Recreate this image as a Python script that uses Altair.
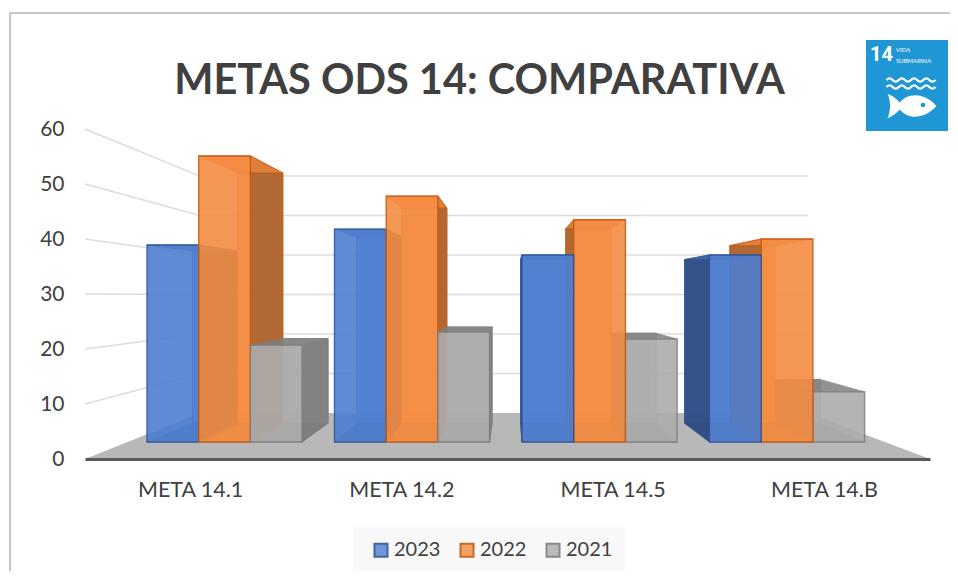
import altair as alt
import pandas as pd

CATEGORIES = ["META 14.1", "META 14.2", "META 14.5", "META 14.B"]
YEARS = ["2023", "2022", "2021"]
V2023 = [38.9, 41.8, 37.1, 37.1]
V2022 = [55.1, 47.8, 43.5, 40.0]
V2021 = [20.7, 23.1, 21.8, 12.2]
TICKS = [0, 10, 20, 30, 40, 50, 60]

FRONT = {"2023": "#4f7fd0", "2022": "#f58c42", "2021": "#acacac"}
BACK = {"2023": "#6e9ae4", "2022": "#f9a05e", "2021": "#bcbcbc"}
EDGE = {"2023": "#2f5597", "2022": "#c55a11", "2021": "#7f7f7f"}
SIDE = {"2023": "#2e4a80", "2022": "#ab622c", "2021": "#7c7c7c"}
TOP = {"2023": "#3f68ad", "2022": "#e8823a", "2021": "#7f7f7f"}
TEXT = "#404040"

# layout constants (page pixels)
L, R, T, B = 85, 930, 129, 459
PX = 5.5                # pixels per unit on the front scale
VX, VY, K = 510, 292, 0.875   # perspective of bar depth
WK, WVY = 0.718, 296    # perspective of the wall
BASE_PX = 442
GROUP0, GROUP_STEP, BAR_W = 147, 187.5, 51.7


def v(py):
    return (B - py) / PX


def py(val):
    return B - PX * val


def bx(x):
    return VX + (x - VX) * K


def by(y):
    return VY + (y - VY) * K


xq = alt.Scale(domain=[L, R], nice=False, zero=False)
yq = alt.Scale(domain=[0, 60], nice=False, zero=False)
X = lambda f="x": alt.X(f + ":Q", scale=xq, axis=None)
Y = lambda f="y": alt.Y(f + ":Q", scale=yq, axis=None)
X2 = lambda f="x2": alt.X2(f)
Y2 = lambda f="y2": alt.Y2(f)


def quad_v(xa, ta, ba, xb, tb, bb, **kw):
    """area with vertical ends: at x=xa spans ta..ba, at x=xb spans tb..bb (page px)"""
    d = pd.DataFrame({"x": [xa, xb], "y": [v(ta), v(tb)], "y2": [v(ba), v(bb)]})
    return alt.Chart(d).mark_area(**kw).encode(x=X(), y=Y(), y2=Y2())


def quad_h(ya, xa0, xa1, yb, xb0, xb1, **kw):
    """area with horizontal ends"""
    d = pd.DataFrame({"y": [v(ya), v(yb)], "x": [xa0, xb0], "x2": [xa1, xb1]})
    return alt.Chart(d).mark_area(orient="horizontal", **kw).encode(x=X(), x2=X2(), y=Y())


def line(xa, ya, xb, yb, color="#dcdcdc", width=1.5):
    d = pd.DataFrame({"x": [xa], "x2": [xb], "y": [v(ya)], "y2": [v(yb)]})
    return alt.Chart(d).mark_rule(color=color, strokeWidth=width).encode(x=X(), x2=X2(), y=Y(), y2=Y2())


def box(x0, x1, y0, y1, color):
    d = pd.DataFrame({"x": [x0], "x2": [x1], "y": [v(y0)], "y2": [v(y1)]})
    return alt.Chart(d).mark_rect(color=color).encode(x=X(), x2=X2(), y=Y(), y2=Y2())


layers = []

# real axes
axis_df = pd.DataFrame({"cat": CATEGORIES, "val": [0, 0, 0, 0]})
layers.append(
    alt.Chart(axis_df).mark_bar(opacity=0).encode(
        x=alt.X("cat:N", sort=CATEGORIES, title=None, scale=alt.Scale(paddingInner=0, paddingOuter=0),
                axis=alt.Axis(labelAngle=0, labelFontSize=21.5, labelColor=TEXT, labelFont="Lato", labelPadding=20,
                              ticks=False, domainColor="#595959", domainWidth=3, grid=False, zindex=1)),
        y=alt.Y("val:Q", title=None, scale=yq,
                axis=alt.Axis(values=TICKS, labelFontSize=21, labelColor=TEXT, labelFont="Lato", labelPadding=21,
                              ticks=False, domain=False, grid=False)),
    )
)

# frame: top and left only
FRAME = "#c8c8c8"
layers += [line(9, 13, 958, 13, FRAME, 2), line(10, 13, 10, 579, FRAME, 2)]

# walls: gridlines on the back wall and side-wall slants
CORNER_L, CORNER_R = 200, 808
for t in TICKS[1:]:
    front_y = py(t)
    back_y = WVY + (front_y - WVY) * WK
    layers.append(line(L, front_y, CORNER_L, back_y))
    layers.append(line(CORNER_L, back_y, CORNER_R, back_y))

# floor
floor_back = WVY + (B - WVY) * WK
layers.append(quad_h(B, L, R, floor_back, CORNER_L, CORNER_R, color="#b8b8b8"))

# legend background
layers.append(box(354, 625, 527, 573, "#f8f8f8"))

# bars: painter order, farthest from the vanishing column first
bars = []
for i, cat in enumerate(CATEGORIES):
    for j, (yr, vals) in enumerate(zip(YEARS, [V2023, V2022, V2021])):
        x0 = GROUP0 + GROUP_STEP * i + BAR_W * j
        bars.append((cat, yr, vals[i], x0, x0 + BAR_W))
bars.sort(key=lambda b: -abs((b[3] + b[4]) / 2 - VX))

year_color = alt.Color("year:N", sort=YEARS, title=None,
                       scale=alt.Scale(domain=YEARS, range=[FRONT[y] for y in YEARS]),
                       legend=alt.Legend(orient="none", legendX=361 - L, legendY=530 - T, direction="horizontal",
                                         columns=3, symbolType="square", symbolSize=170, symbolStrokeWidth=2,
                                         labelFontSize=20, labelFont="Lato", labelColor=TEXT, labelOffset=3,
                                         columnPadding=15, padding=10, symbolOpacity=0.95))
year_stroke = alt.Stroke("year:N", sort=YEARS, title=None,
                         scale=alt.Scale(domain=YEARS, range=[EDGE[y] for y in YEARS]))

for cat, yr, val, x0, x1 in bars:
    top = py(val)
    bb0, bb1 = bx(x0), bx(x1)
    btop, bbase = by(top), by(BASE_PX)
    e = dict(stroke=EDGE[yr], strokeWidth=0.8)
    layers.append(quad_v(bb0, btop, bbase, bb1, btop, bbase, color=BACK[yr], opacity=0.9, **e))
    layers.append(quad_h(BASE_PX, x0, x1, bbase, bb0, bb1, color=SIDE[yr], opacity=0.55, **e))
    if x1 < VX:
        layers.append(quad_v(x1, top, BASE_PX, bb1, btop, bbase, color=SIDE[yr], opacity=0.9, **e))
    elif x0 > VX:
        layers.append(quad_v(bb0, btop, bbase, x0, top, BASE_PX, color=SIDE[yr], opacity=0.9, **e))
    layers.append(quad_h(top, x0, x1, btop, bb0, bb1, color=TOP[yr], opacity=0.85, **e))
    front = pd.DataFrame({"x": [x0, x1], "y": [val, val], "y2": [v(BASE_PX)] * 2, "year": [yr, yr]})
    layers.append(
        alt.Chart(front).mark_area(opacity=0.9, strokeWidth=1.4).encode(
            x=X(), y=Y(), y2=Y2(), color=year_color, stroke=year_stroke
        )
    )

# SDG 14 badge
ICON = "#1f97d4"
layers.append(box(866, 948, 40, 131, ICON))


def label(txt, x, y, size, weight="normal", align="left", font="Lato"):
    d = pd.DataFrame({"x": [x], "y": [v(y)], "t": [txt]})
    return alt.Chart(d).mark_text(font=font, fontSize=size, fontWeight=weight, color="white", align=align,
                                  baseline="middle").encode(x=X(), y=Y(), text="t:N")


def glyph(path, x, y, size, filled=True, color="white", sw=0):
    d = pd.DataFrame({"x": [x], "y": [v(y)]})
    if filled:
        kw = dict(fill=color, fillOpacity=1, strokeWidth=0)
    else:
        kw = dict(filled=False, color=color, strokeWidth=sw, opacity=1)
    return alt.Chart(d).mark_point(shape=path, size=size, **kw).encode(x=X(), y=Y())


WAVE = "M -1 0 Q -0.875 -0.14 -0.75 0 T -0.5 0 T -0.25 0 T 0 0 T 0.25 0 T 0.5 0 T 0.75 0 T 1 0"
FISH = ("M -1 -0.5 C -0.8 -0.42 -0.62 -0.28 -0.5 -0.14 C -0.2 -0.52 0.45 -0.6 1 0 "
        "C 0.45 0.6 -0.2 0.52 -0.5 0.14 C -0.62 0.28 -0.8 0.42 -1 0.5 C -0.86 0.2 -0.86 -0.2 -1 -0.5 Z")
layers += [
    label("14", 870, 55, 20, "bold", font="Roboto"),
    label("VIDA", 896, 50, 6),
    label("SUBMARINA", 896, 61, 6),
    glyph(WAVE, 911, 80, 2400, False, "white", 2.2),
    glyph(WAVE, 911, 87, 2400, False, "white", 2.2),
    glyph(FISH, 912, 106, 2400),
    glyph("circle", 923, 105, 22, True, "#1f97d4"),
]

chart = (
    alt.layer(*layers)
    .resolve_scale(x="independent")
    .resolve_axis(y="independent")
    .properties(
        width=R - L,
        height=B - T,
        padding={"left": L - 8, "top": T - 8, "right": 950 - R, "bottom": 571 - B},
        autosize=alt.AutoSizeParams(type="none"),
        background="white",
        title=alt.TitleParams("METAS ODS 14: COMPARATIVA", font="Lato", fontSize=41.5, fontWeight="bold", color=TEXT,
                              anchor="middle", dx=-28, offset=-90),
    )
    .configure_view(stroke=None)
)
chart.save("out.html", embed_options={"renderer": "svg", "actions": False})
